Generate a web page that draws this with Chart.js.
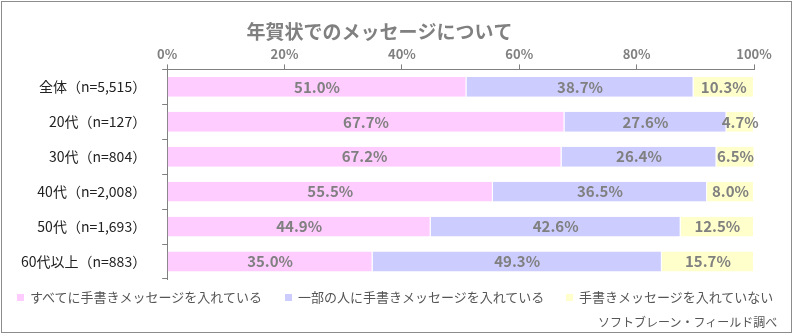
<!DOCTYPE html>
<html>
<head>
<meta charset="utf-8">
<script src="https://cdn.jsdelivr.net/npm/chart.js@4"></script>
<style>
  body { margin: 0; background: #fff; }
  #wrap { position: relative; width: 794px; height: 334px; }
  #src { position: absolute; left: 598px; top: 313px; font: 12px "Noto Sans CJK JP", sans-serif; color: #555; }
  .lg { position: absolute; top: 288px; font: 13px "Noto Sans CJK JP", sans-serif; color: #555; white-space: nowrap; line-height: 18px; }
  .lg i { display: inline-block; width: 7px; height: 7px; margin-right: 6px; vertical-align: 1px; }
</style>
</head>
<body>
<div id="wrap">
  <canvas id="chart" width="794" height="334"></canvas>
  <div id="legend"></div>
  <div id="src">ソフトブレーン・フィールド調べ</div>
</div>
<script>
// カテゴリとシリーズ
const categories = ['全体（n=5,515）', '20代（n=127）', '30代（n=804）', '40代（n=2,008）', '50代（n=1,693）', '60代以上（n=883）'];
const allHand = [51.0, 67.7, 67.2, 55.5, 44.9, 35.0];     // すべてに手書き
const someHand = [38.7, 27.6, 26.4, 36.5, 42.6, 49.3];    // 一部の人に手書き
const noHand = [10.3, 4.7, 6.5, 8.0, 12.5, 15.7];         // 手書きなし
const seriesNames = ['すべてに手書きメッセージを入れている', '一部の人に手書きメッセージを入れている', '手書きメッセージを入れていない'];
const colors = ['#ffccff', '#ccccff', '#ffffcc'];
const jp = '"Noto Sans CJK JP", sans-serif';

// 凡例はHTMLで（位置合わせのため）
const legendX = [17, 285, 566];
seriesNames.forEach(function (name, i) {
	let d = document.createElement('div');
	d.className = 'lg';
	d.style.left = legendX[i] + 'px';
	d.innerHTML = '<i style="background:' + colors[i] + '"></i>' + name;
	document.getElementById('legend').appendChild(d);
});

// 値ラベルを描くプラグイン
const valueLabels = {
	id: 'valueLabels',
	afterDatasetsDraw(chart) {
		const ctx = chart.ctx;
		ctx.save();
		ctx.font = 'bold 15px ' + jp;
		ctx.fillStyle = '#808080';
		ctx.textAlign = 'center';
		ctx.textBaseline = 'middle';
		chart.data.datasets.forEach(function (ds, i) {
			chart.getDatasetMeta(i).data.forEach(function (bar, j) {
				let cx = (bar.x + bar.base) / 2;
				ctx.fillText(ds.data[j].toFixed(1) + '%', cx, bar.y);
			});
		});
		ctx.restore();
	}
};

// 背景と外枠
const frame = {
	id: 'frame',
	beforeDraw(chart) {
		const ctx = chart.ctx;
		ctx.save();
		ctx.fillStyle = '#fff';
		ctx.fillRect(0, 0, chart.width, chart.height);
		ctx.strokeStyle = '#8c8c8c';
		ctx.lineWidth = 1;
		ctx.strokeRect(1.5, 1.5, 790, 331);
		ctx.restore();
	}
};

new Chart(document.getElementById('chart').getContext('2d'), {
	type: 'bar',
	data: {
		labels: categories,
		datasets: [
			{ label: seriesNames[0], data: allHand, backgroundColor: colors[0] },
			{ label: seriesNames[1], data: someHand, backgroundColor: colors[1] },
			{ label: seriesNames[2], data: noHand, backgroundColor: colors[2] }
		]
	},
	options: {
		indexAxis: 'y',
		responsive: false,
		animation: false,
		datasets: { bar: { categoryPercentage: 1, barPercentage: 0.57, borderColor: '#fff', borderWidth: { right: 1 }, borderSkipped: false } },
		layout: { padding: { left: 5, right: 40, top: 7, bottom: 55 } },
		plugins: {
			title: {
				display: true,
				text: '年賀状でのメッセージについて',
				color: '#808080',
				font: { family: jp, size: 19, weight: 'bold' },
				padding: { top: 13, bottom: 0 }
			},
			legend: { display: false },
			tooltip: { enabled: false }
		},
		scales: {
			x: {
				position: 'top',
				stacked: true,
				min: 0, max: 100,
				ticks: { stepSize: 20, callback: v => v + '%', color: '#808080', font: { family: jp, size: 13, weight: 'bold' }, padding: 3 },
				grid: { drawOnChartArea: false, tickLength: 5, color: '#808080' },
				border: { color: '#808080' }
			},
			y: {
				stacked: true,
				ticks: { color: '#222', font: { family: jp, size: 14 }, padding: 16 },
				grid: { drawOnChartArea: false, tickLength: 5, color: '#808080' },
				border: { color: '#808080' }
			}
		}
	},
	plugins: [valueLabels, frame]
});
</script>
</body>
</html>
